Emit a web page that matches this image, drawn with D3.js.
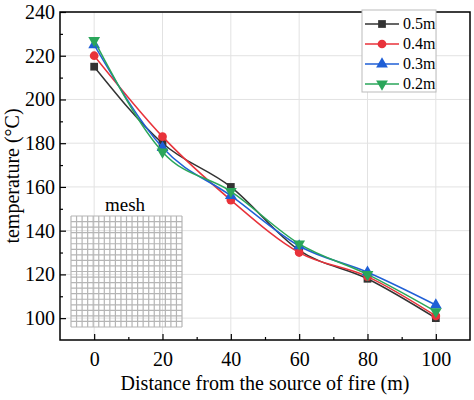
<!DOCTYPE html><html><head><script src="https://cdn.jsdelivr.net/npm/d3@7"></script>
<style>body{margin:0;background:#fff}text{font-family:"Liberation Serif","Times New Roman",serif}</style></head><body><svg id="c" width="474" height="400"></svg>
<script>
const xs=[0,20,40,60,80,100];
const names=["0.5m","0.4m","0.3m","0.2m"];
const s05=[215,180,160,131,118,100];
const s04=[220,183,154,130,119,101];
const s03=[225,178,156,133,121,106];
const s02=[227,176,158,134,120,103];
const series=[s05,s04,s03,s02];
const colors=["#333333","#e8323a","#1f5fd6","#2aa65a"];
const symbols=[d3.symbolSquare,d3.symbolCircle,d3.symbolTriangle,"tridown"];
const xTicks=[0,20,40,60,80,100], yTicks=[100,120,140,160,180,200,220,240];
const svg=d3.select("#c");
const L=60,R=470,T=12,B=340;
const x=d3.scaleLinear().domain([-10,110]).range([L,R]);
const y=d3.scaleLinear().domain([90,240]).range([B,T]);
const g=svg.append("g");
xTicks.forEach(t=>g.append("line").attr("x1",x(t)).attr("x2",x(t)).attr("y1",T).attr("y2",B).attr("stroke","#e2e2e2"));
yTicks.forEach(t=>g.append("line").attr("y1",y(t)).attr("y2",y(t)).attr("x1",L).attr("x2",R).attr("stroke","#e2e2e2"));
const mx=71,my=216,mw=111,mh=111,n=20;
const mg=svg.append("g").attr("stroke","#b5b5b5").attr("stroke-width",1.2);
d3.range(n+1).forEach(i=>{mg.append("line").attr("x1",mx+i*mw/n).attr("x2",mx+i*mw/n).attr("y1",my).attr("y2",my+mh);
mg.append("line").attr("y1",my+i*mh/n).attr("y2",my+i*mh/n).attr("x1",mx).attr("x2",mx+mw);});
svg.append("text").attr("x",125).attr("y",211).attr("text-anchor","middle").attr("font-size",19).text("mesh");
svg.append("rect").attr("x",L).attr("y",T).attr("width",R-L).attr("height",B-T).attr("fill","none").attr("stroke","#000").attr("stroke-width",1.5);
const xa=svg.append("g").attr("transform",`translate(0,${B})`).call(d3.axisBottom(x).tickValues(xTicks).tickSize(-6).tickPadding(12));
const xm=svg.append("g").attr("transform",`translate(0,${B})`).call(d3.axisBottom(x).tickValues([10,30,50,70,90]).tickSize(-3).tickFormat(""));
const ya=svg.append("g").attr("transform",`translate(${L},0)`).call(d3.axisLeft(y).tickValues(yTicks).tickSize(-6).tickPadding(5));
const ym=svg.append("g").attr("transform",`translate(${L},0)`).call(d3.axisLeft(y).tickValues([110,130,150,170,190,210,230]).tickSize(-3).tickFormat(""));
[xa,xm,ya,ym].forEach(a=>{a.select(".domain").remove();a.selectAll("line").attr("stroke","#000").attr("stroke-width",1.2);a.selectAll("text").attr("font-size",20).attr("fill","#000").style("font-family","Liberation Serif");});
const line=d3.line().x((d,i)=>x(xs[i])).y(d=>y(d)).curve(d3.curveMonotoneX);
function sym(k,size){return k==="tridown"?d3.symbol(d3.symbolTriangle,size)():d3.symbol(k,size)();}
series.forEach((s,j)=>{
 svg.append("path").datum(s).attr("d",line).attr("fill","none").attr("stroke",colors[j]).attr("stroke-width",1.5);
 s.forEach((v,i)=>svg.append("path").attr("d",sym(symbols[j],60)).attr("fill",colors[j])
 .attr("transform",`translate(${x(xs[i])},${y(v)})${symbols[j]==="tridown"?" rotate(180)":""}`));
});
const lg=svg.append("g");
lg.append("rect").attr("x",362).attr("y",10).attr("width",74).attr("height",82).attr("fill","#fff").attr("stroke","#bbb");
names.forEach((nm,j)=>{const yy=24+j*20;
 lg.append("line").attr("x1",365).attr("x2",399).attr("y1",yy).attr("y2",yy).attr("stroke",colors[j]).attr("stroke-width",1.5);
 lg.append("path").attr("d",sym(symbols[j],60)).attr("fill",colors[j]).attr("transform",`translate(382,${yy})${symbols[j]==="tridown"?" rotate(180)":""}`);
 lg.append("text").attr("x",403).attr("y",yy+5).attr("font-size",16).text(nm);});
svg.append("text").attr("x",265).attr("y",390).attr("text-anchor","middle").attr("font-size",20).text("Distance from the source of fire (m)");
svg.append("text").attr("transform","translate(19,176) rotate(-90)").attr("text-anchor","middle").attr("font-size",20).text("temperature (°C)");
</script></body></html>
